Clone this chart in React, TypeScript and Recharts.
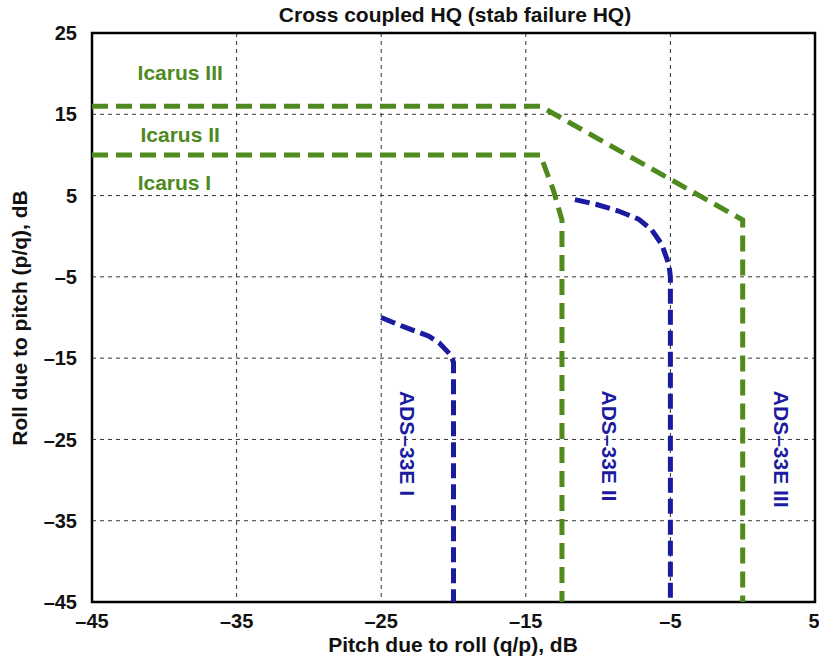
import React from 'react';
import {
  LineChart,
  Line,
  XAxis,
  YAxis,
  CartesianGrid,
  ReferenceArea,
  ReferenceDot,
} from 'recharts';

const xTicks = [-45, -35, -25, -15, -5, 5];
const yTicks = [-45, -35, -25, -15, -5, 5, 15, 25];

// boundary curves, [pitch due to roll, roll due to pitch] in dB
const icarus3 = [[-45, 16], [-14, 16], [0, 2], [0, -45]];
const icarus2 = [[-45, 10], [-14, 10], [-13.1, 5.7], [-12.5, 2], [-12.5, -45]];
const ads2 = [
  [-11.6, 4.5], [-10.1, 3.9], [-8.6, 3.1], [-7.2, 2.1], [-6.3, 0.8],
  [-5.6, -1], [-5.1, -3.5], [-5, -5], [-5, -45],
];
const ads1 = [
  [-25, -10], [-23.5, -11.1], [-21.7, -12.3], [-21, -13.1], [-20.2, -14.6],
  [-20, -15.5], [-20, -45],
];

const regionLabels = ['Icarus III', 'Icarus II', 'Icarus I'];
const adsLabels = ['ADS–33E I', 'ADS–33E II', 'ADS–33E III'];

const FONT = '"Liberation Sans", Arial, Helvetica, sans-serif';
const GREEN = '#4e8a1e';
const BLUE = '#1b1ba0';

const toPoints = (pts: number[][]) => pts.map(([x, y]) => ({ x, y }));
const fmt = (v: number) => (v < 0 ? `–${-v}` : `${v}`);

// where the region names sit, in data units
const icarusPos = [[-38.9, 20.1], [-38.9, 12.5], [-39.3, 6.6]];
const adsPos = [[-23.2, -25.5], [-9.2, -25.8], [2.7, -26.2]];

const makeText = (value: string, color: string, rotate: boolean) => (props: any) => {
  const { cx, cy } = props;
  return (
    <text
      x={cx}
      y={cy}
      textAnchor="middle"
      dominantBaseline="central"
      transform={rotate ? `rotate(90 ${cx} ${cy})` : undefined}
      fill={color}
      fontFamily={FONT}
      fontWeight="bold"
      fontSize={21}
    >
      {value}
    </text>
  );
};

const tickStyle = { fontSize: 20, fontWeight: 'bold', fill: '#111', fontFamily: FONT };

export default function App() {
  return (
    <div style={{ position: 'absolute', left: 0, top: 0, width: 819, height: 660 }}>
      <LineChart width={819} height={660} margin={{ top: 33, right: 4, bottom: 0, left: 0 }}>
        <CartesianGrid stroke="#333" strokeDasharray="4 4" strokeWidth={1} />
        <XAxis
          dataKey="x"
          type="number"
          domain={[-45, 5]}
          ticks={xTicks}
          tickFormatter={fmt}
          allowDataOverflow
          height={58}
          axisLine={false}
          tickLine={false}
          tickSize={0}
          tickMargin={12}
          tick={tickStyle}
        />
        <YAxis
          dataKey="y"
          type="number"
          domain={[-45, 25]}
          ticks={yTicks}
          tickFormatter={fmt}
          allowDataOverflow
          width={92}
          axisLine={false}
          tickLine={false}
          tickSize={0}
          tickMargin={15}
          tick={tickStyle}
        />
        <Line data={toPoints(icarus3)} dataKey="y" type="linear" stroke={GREEN} strokeWidth={5}
          strokeDasharray="16 8" dot={false} isAnimationActive={false} />
        <Line data={toPoints(icarus2)} dataKey="y" type="linear" stroke={GREEN} strokeWidth={5}
          strokeDasharray="16 8" dot={false} isAnimationActive={false} />
        <Line data={toPoints(ads2)} dataKey="y" type="linear" stroke={BLUE} strokeWidth={5}
          strokeDasharray="15 6" dot={false} isAnimationActive={false} />
        <Line data={toPoints(ads1)} dataKey="y" type="linear" stroke={BLUE} strokeWidth={5}
          strokeDasharray="15 6" dot={false} isAnimationActive={false} />
        {regionLabels.map((t, i) => (
          <ReferenceDot key={t} x={icarusPos[i][0]} y={icarusPos[i][1]} r={0}
            shape={makeText(t, GREEN, false)} />
        ))}
        {adsLabels.map((t, i) => (
          <ReferenceDot key={t} x={adsPos[i][0]} y={adsPos[i][1]} r={0}
            shape={makeText(t, BLUE, true)} />
        ))}
        <ReferenceArea x1={-45} x2={5} y1={-45} y2={25} fill="none" stroke="#000" strokeWidth={2.5} />
      </LineChart>
      <svg width={819} height={660} style={{ position: 'absolute', left: 0, top: 0, pointerEvents: 'none' }}>
        <g fontFamily={FONT} fontWeight="bold" fill="#111" textAnchor="middle">
          <text x={455} y={22} fontSize={21}>Cross coupled HQ (stab failure HQ)</text>
          <text x={453} y={652} fontSize={21}>Pitch due to roll (q/p), dB</text>
          <text x={27} y={318} fontSize={21} transform="rotate(-90 27 318)">Roll due to pitch (p/q), dB</text>
        </g>
      </svg>
    </div>
  );
}
